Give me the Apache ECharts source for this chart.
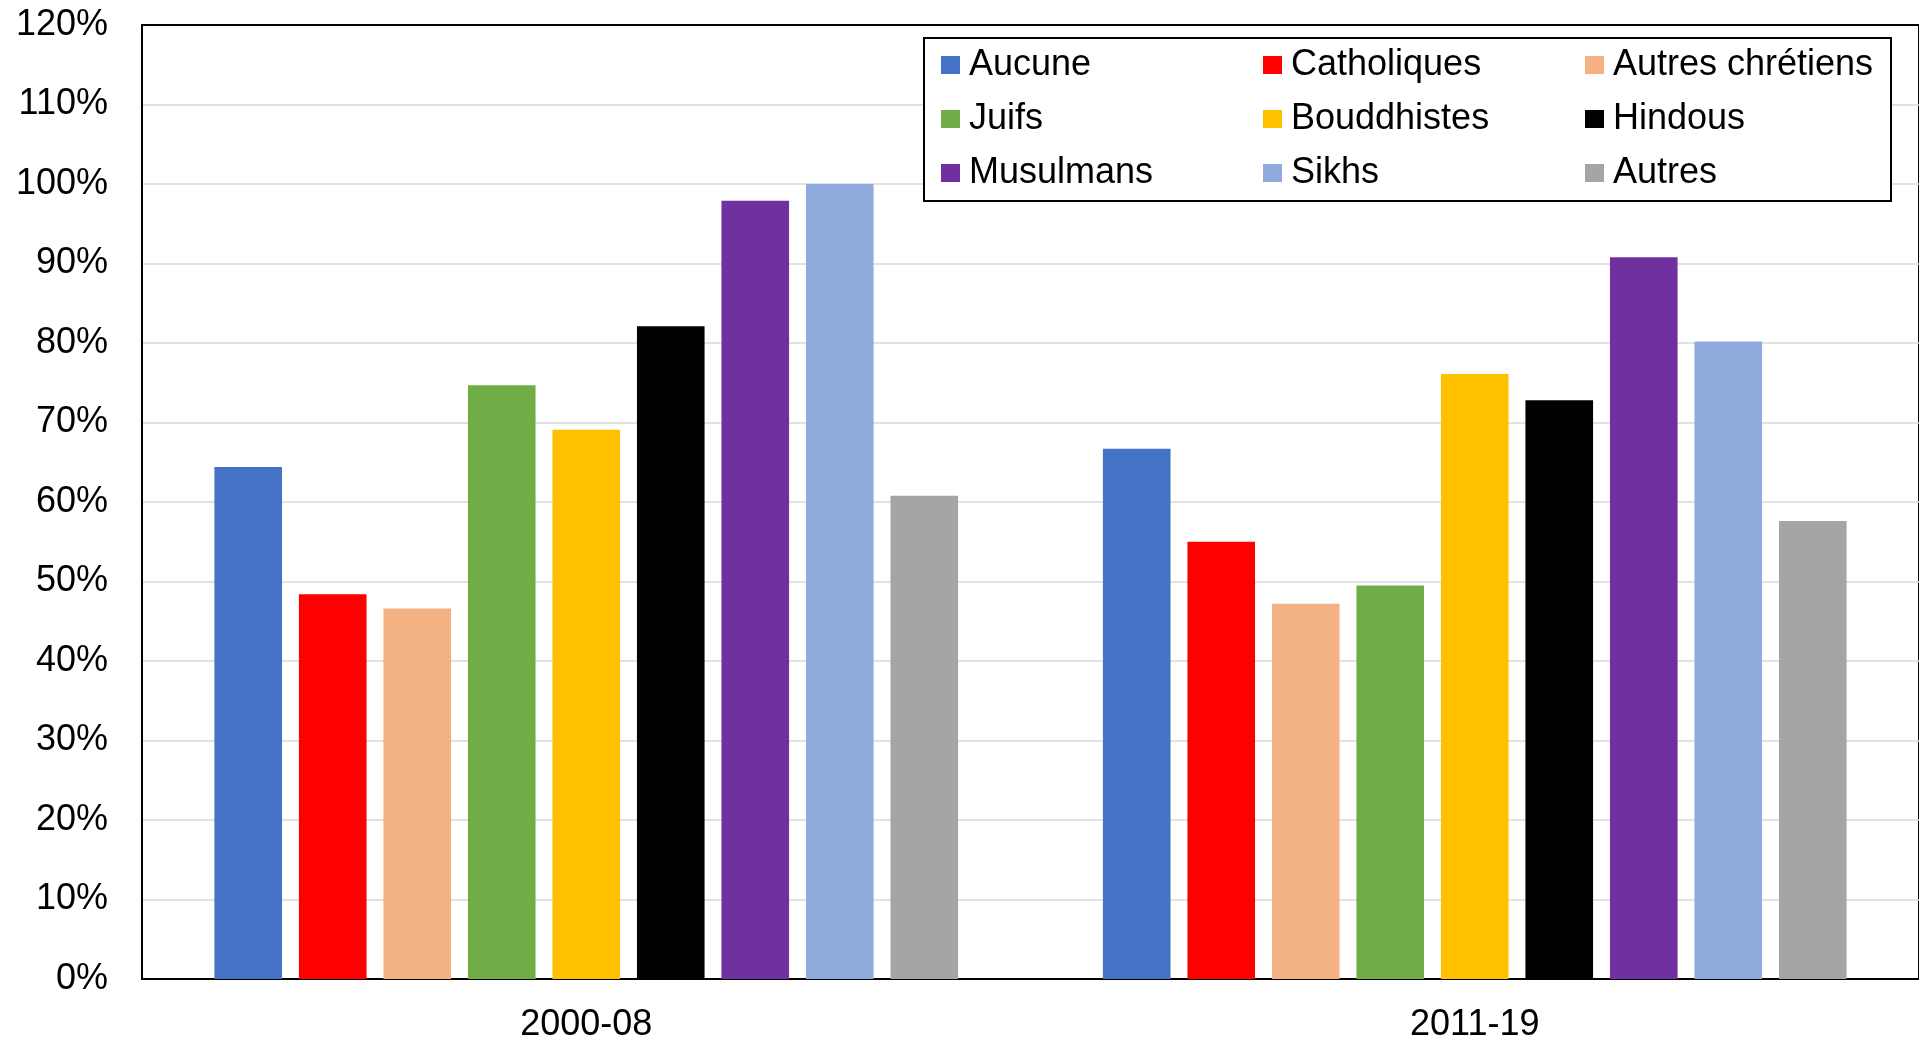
<!DOCTYPE html>
<html>
<head>
<meta charset="utf-8">
<script src="https://cdn.jsdelivr.net/npm/echarts@6/dist/echarts.min.js"></script>
<style>
  html, body { margin: 0; padding: 0; background: #fff; }
  #main { width: 1919px; height: 1043px; }
</style>
</head>
<body>
<div id="main"></div>
<script>
// périodes
var periodes = ['2000-08', '2011-19'];
// religions (ordre de la légende)
var religions = ['Aucune', 'Catholiques', 'Autres chrétiens', 'Juifs', 'Bouddhistes', 'Hindous', 'Musulmans', 'Sikhs', 'Autres'];
var couleurs = ['#4472C4', '#FF0000', '#F4B183', '#70AD47', '#FFC000', '#000000', '#7030A0', '#8FAADC', '#A5A5A5'];
// valeurs en %, une ligne par religion : [2000-08, 2011-19]
var aucune = [64.4, 66.7];
var catholiques = [48.4, 55.0];
var autresChretiens = [46.6, 47.2];
var juifs = [74.7, 49.5];
var bouddhistes = [69.1, 76.1];
var hindous = [82.1, 72.8];
var musulmans = [97.9, 90.8];
var sikhs = [100.0, 80.2];
var autres = [60.8, 57.6];
var valeurs = [aucune, catholiques, autresChretiens, juifs, bouddhistes, hindous, musulmans, sikhs, autres];

var chart = echarts.init(document.getElementById('main'));

var series = religions.map(function (nom, i) {
  return {
    name: nom,
    type: 'bar',
    data: valeurs[i],
    itemStyle: { color: couleurs[i] },
    barGap: '25%',
    barCategoryGap: '16.3%'
  };
});

var option = {
  animation: false,
  textStyle: { fontFamily: 'Liberation Sans, Arial, sans-serif' },
  grid: { left: 142, top: 25, right: -2, bottom: 61, show: true, borderColor: '#000', borderWidth: 2 },
  legend: {
    data: religions,
    left: 924,
    top: 38,
    width: 958,
    itemWidth: 19,
    itemHeight: 18,
    itemGap: 18,
    padding: [9, 2, 10, 17],
    borderColor: '#000',
    borderWidth: 2,
    backgroundColor: '#fff',
    icon: 'rect',
    textStyle: { fontSize: 36, color: '#000', width: 276, lineHeight: 35, padding: [0, 0, 0, 4] }
  },
  xAxis: {
    type: 'category',
    data: periodes,
    axisLine: { lineStyle: { color: '#000', width: 2 } },
    axisTick: { show: false },
    axisLabel: { fontSize: 36, color: '#000', margin: 28 }
  },
  yAxis: {
    type: 'value',
    min: 0,
    max: 120,
    interval: 10,
    axisLine: { show: true, lineStyle: { color: '#000', width: 2 } },
    axisTick: { show: false },
    splitLine: { showMaxLine: false, lineStyle: { color: '#d9d9d9', width: 1.5 } },
    axisLabel: { fontSize: 36, color: '#000', margin: 34, formatter: '{value}%' }
  },
  series: series
};

chart.setOption(option);
</script>
</body>
</html>
